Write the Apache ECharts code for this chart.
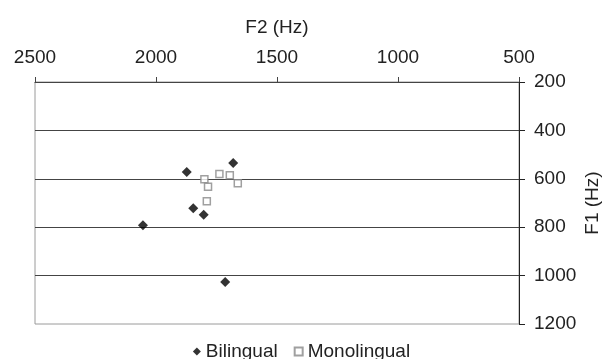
<!DOCTYPE html>
<html>
<head>
<meta charset="utf-8">
<script src="https://cdn.jsdelivr.net/npm/echarts@6/dist/echarts.min.js"></script>
<style>html,body{margin:0;padding:0;background:#fff}#c{width:603px;height:359px}</style>
</head>
<body>
<div id="c"></div>
<script>
// F2 (Hz), F1 (Hz)
const bilingualF2 = [1873, 1681, 1846, 1803, 2054, 1714];
const bilingualF1 = [572, 535, 722, 749, 792, 1026];
const monolingualF2 = [1800, 1785, 1738, 1695, 1662, 1790];
const monolingualF1 = [602, 633, 580, 585, 618, 693];
const seriesNames = ['Bilingual', 'Monolingual'];

const font = '"Liberation Sans", Arial, sans-serif';
const fs = 19;
const plain = v => String(v);
const chart = echarts.init(document.getElementById('c'));
chart.setOption({
  animation: false,
  textStyle: { fontFamily: font },
  grid: { left: 35, right: 84, top: 82, bottom: 35, show: true, borderColor: '#9a9a9a', borderWidth: 1, outerBoundsMode: 'none', containLabel: false },
  xAxis: {
    type: 'value', position: 'top', inverse: true,
    min: 500, max: 2500, interval: 500,
    name: 'F2 (Hz)', nameLocation: 'middle', nameGap: 45, nameMoveOverlap: false,
    nameTextStyle: { fontSize: fs, color: '#222', fontFamily: font },
    axisLine: { show: true, lineStyle: { color: '#444', width: 1 } },
    axisTick: { show: true, length: 5, lineStyle: { color: '#444' } },
    axisLabel: { fontSize: fs, color: '#222', margin: 15, fontFamily: font, formatter: plain },
    splitLine: { show: false }
  },
  yAxis: {
    type: 'value', position: 'right', inverse: true,
    min: 200, max: 1200, interval: 200,
    name: 'F1 (Hz)', nameLocation: 'middle', nameGap: 64, nameRotate: 90, nameMoveOverlap: false,
    nameTextStyle: { fontSize: fs, color: '#222', fontFamily: font },
    axisLine: { show: true, lineStyle: { color: '#222', width: 1 } },
    axisTick: { show: true, length: 6, lineStyle: { color: '#222' } },
    axisLabel: { fontSize: fs, color: '#222', margin: 15, fontFamily: font, formatter: plain },
    splitLine: { show: true, showMaxLine: false, lineStyle: { color: '#444', width: 1 } }
  },
  legend: {
    top: 337, left: 'center',
    itemWidth: 8, itemHeight: 8, itemGap: 16,
    textStyle: { fontSize: fs, color: '#222', fontFamily: font },
    data: [
      { name: seriesNames[0], icon: 'diamond' },
      { name: seriesNames[1], icon: 'rect' }
    ]
  },
  series: [
    {
      name: seriesNames[0], type: 'scatter', symbol: 'diamond', symbolSize: 10,
      itemStyle: { color: '#000' },
      data: bilingualF2.map((v, i) => [v, bilingualF1[i]])
    },
    {
      name: seriesNames[1], type: 'scatter', symbol: 'rect', symbolSize: 7,
      itemStyle: { color: '#fff', borderColor: '#888', borderWidth: 1.5 },
      data: monolingualF2.map((v, i) => [v, monolingualF1[i]])
    }
  ]
});
</script>
</body>
</html>
